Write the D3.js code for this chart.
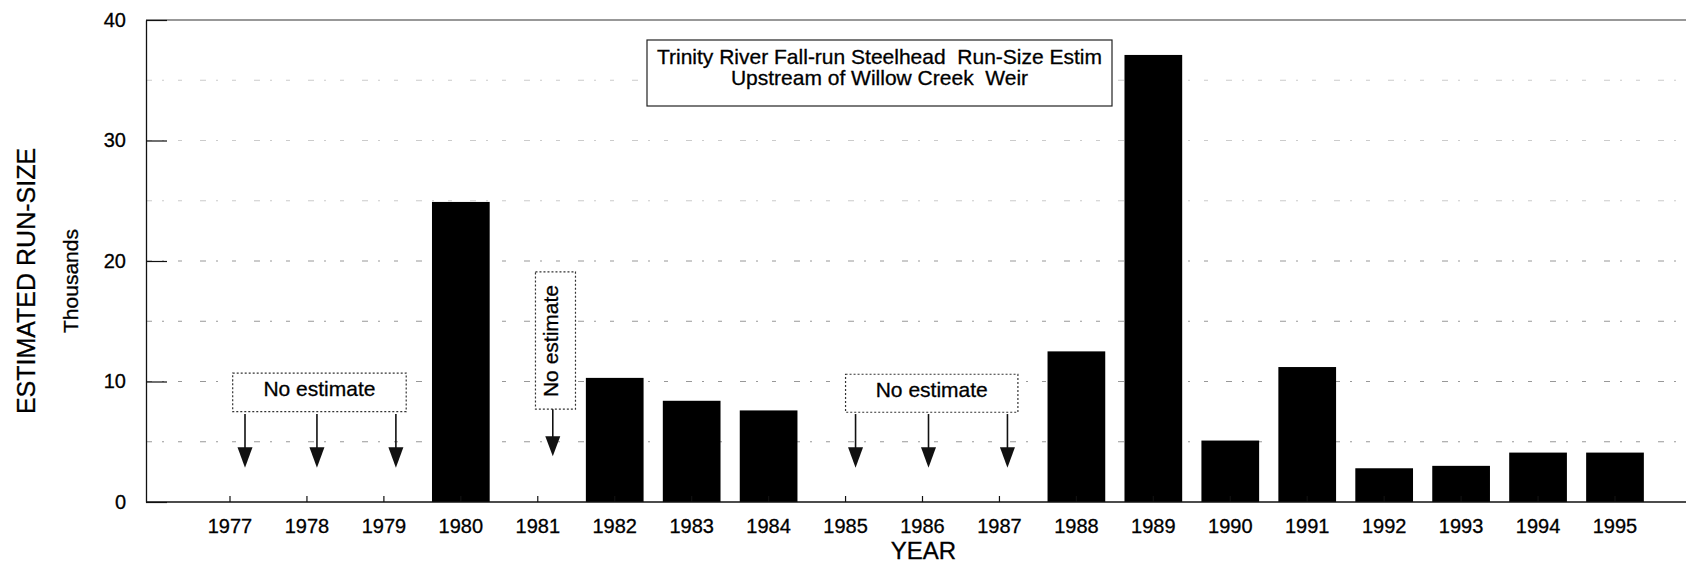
<!DOCTYPE html>
<html>
<head>
<meta charset="utf-8">
<script src="https://cdn.jsdelivr.net/npm/d3@7"></script>
<style>
  html, body { margin: 0; padding: 0; background: #fff; }
  svg { display: block; }
  text { font-family: "Liberation Sans", Arial, Helvetica, sans-serif; fill: #000; stroke: #000; stroke-width: 0.3px; white-space: pre; }
</style>
</head>
<body>
<svg id="chart" width="1686" height="565"></svg>
<script>
// ---- data ----
const years = [1977,1978,1979,1980,1981,1982,1983,1984,1985,1986,1987,1988,1989,1990,1991,1992,1993,1994,1995];
const barYears = [1980,1982,1983,1984,1988,1989,1990,1991,1992,1993,1994,1995];
const runSize = [24.9,10.3,8.4,7.6,12.5,37.1,5.1,11.2,2.8,3.0,4.1,4.1];   // thousands
const yTicks = [0,10,20,30,40];
const gridValues = [5,10,15,20,25,30,35];
const noEstimateYears = [1977,1978,1979,1981,1985,1986,1987];
const titleLines = ["Trinity River Fall-run Steelhead  Run-Size Estim", "Upstream of Willow Creek  Weir"];
const noEstimateLabel = "No estimate";
const yLabel = "ESTIMATED RUN-SIZE";
const yUnit = "Thousands";
const xLabel = "YEAR";

// ---- layout ----
const W = 1686, H = 565;
const plot = { left: 146, right: 1686, top: 20, bottom: 502 };
const firstC = 230, lastC = 1615;
const step = (lastC - firstC) / (years.length - 1);

const svg = d3.select("#chart");
svg.append("rect").attr("width", W).attr("height", H).attr("fill", "#fff");

const x = d3.scaleBand()
  .domain(years)
  .range([firstC - step / 2, lastC + step / 2])
  .paddingInner(0.25)
  .paddingOuter(0.125);
const xc = yr => x(yr) + x.bandwidth() / 2;
const xLin = d3.scaleLinear().domain([1977, 1995]).range([firstC, lastC]);

const y = d3.scaleLinear().domain([0, 40]).range([plot.bottom, plot.top]);

// gridlines (faint, broken)
svg.append("g").selectAll("line").data(gridValues).join("line")
  .attr("x1", plot.left).attr("x2", plot.right)
  .attr("y1", d => y(d)).attr("y2", d => y(d))
  .attr("stroke", "#555").attr("stroke-width", 1)
  .attr("stroke-dasharray", "6,10,2,14,4,18")
  .attr("opacity", d => (d <= 20) ? 0.6 : 0.3);

// top frame line
svg.append("line")
  .attr("x1", plot.left).attr("x2", plot.right)
  .attr("y1", y(40)).attr("y2", y(40))
  .attr("stroke", "#333").attr("stroke-width", 1.2);

// bars
svg.append("g").selectAll("rect").data(barYears.map((yr, i) => ({ yr, v: runSize[i] }))).join("rect")
  .attr("x", d => x(d.yr))
  .attr("width", x.bandwidth())
  .attr("y", d => y(d.v))
  .attr("height", d => y(0) - y(d.v))
  .attr("fill", "#000");

// y axis
const yAxis = d3.axisLeft(y).tickValues(yTicks).tickSizeInner(-21).tickSizeOuter(0).tickPadding(20);
const gy = svg.append("g").attr("transform", `translate(${plot.left},0)`).call(yAxis);
gy.select(".domain").attr("stroke", "#111").attr("stroke-width", 1.3);
gy.selectAll(".tick line").attr("stroke", "#111").attr("stroke-width", 1.2);
gy.selectAll(".tick text").attr("font-size", 20).attr("fill", "#000")
  .style("font-family", '"Liberation Sans", Arial, sans-serif');

// x axis
const xAxis = d3.axisBottom(x).tickSizeInner(-6).tickSizeOuter(0);
const gx = svg.append("g").attr("transform", `translate(0,${plot.bottom})`).call(xAxis);
gx.select(".domain").remove();
gx.selectAll(".tick line").attr("stroke", "#111").attr("stroke-width", 1.2);
gx.selectAll(".tick text").attr("y", 31).attr("dy", null)
  .attr("font-size", 20).attr("fill", "#000")
  .style("font-family", '"Liberation Sans", Arial, sans-serif');
svg.append("line")
  .attr("x1", plot.left).attr("x2", plot.right)
  .attr("y1", y(0)).attr("y2", y(0))
  .attr("stroke", "#111").attr("stroke-width", 1.5);

// axis titles
svg.append("text")
  .attr("transform", `translate(35,${(y(0) + y(40)) / 2 + 20}) rotate(-90)`)
  .attr("text-anchor", "middle").attr("font-size", 25)
  .text(yLabel);
svg.append("text")
  .attr("transform", `translate(78,${(y(0) + y(40)) / 2 + 20}) rotate(-90)`)
  .attr("text-anchor", "middle").attr("font-size", 21)
  .text(yUnit);
svg.append("text")
  .attr("x", xLin(1986) + 1).attr("y", 559)
  .attr("text-anchor", "middle").attr("font-size", 24)
  .text(xLabel);

// title box
const tb = { x0: 647, x1: 1112, y0: 40, y1: 106 };
svg.append("rect")
  .attr("x", tb.x0).attr("y", tb.y0)
  .attr("width", tb.x1 - tb.x0).attr("height", tb.y1 - tb.y0)
  .attr("fill", "#fff").attr("stroke", "#222").attr("stroke-width", 1.2);
svg.append("g").selectAll("text").data(titleLines).join("text")
  .attr("x", (tb.x0 + tb.x1) / 2)
  .attr("y", (d, i) => 63.5 + i * 21.5)
  .attr("text-anchor", "middle").attr("font-size", 21)
  .attr("xml:space", "preserve")
  .text(d => d);

// "No estimate" boxes (placed in data units)
const boxes = [
  { from: 1977.035, to: 1979.29, top: 10.7, bot: 7.5, vertical: false },
  { from: 1980.97, to: 1981.49, top: 19.1, bot: 7.7, vertical: true },
  { from: 1985.0, to: 1987.24, top: 10.6, bot: 7.45, vertical: false }
];
const gb = svg.append("g");
boxes.forEach(b => {
  const bx0 = xLin(b.from), bx1 = xLin(b.to), by0 = y(b.top), by1 = y(b.bot);
  gb.append("rect")
    .attr("x", bx0).attr("y", by0).attr("width", bx1 - bx0).attr("height", by1 - by0)
    .attr("fill", "#fff").attr("stroke", "#333").attr("stroke-width", 1.2)
    .attr("stroke-dasharray", "2,2");
  if (b.vertical) {
    gb.append("text")
      .attr("transform", `translate(${bx0 + 23},${(by0 + by1) / 2 + 0.5}) rotate(-90)`)
      .attr("text-anchor", "middle").attr("font-size", 21)
      .text(noEstimateLabel);
  } else {
    gb.append("text")
      .attr("x", (bx0 + bx1) / 2).attr("y", by0 + 23)
      .attr("text-anchor", "middle").attr("font-size", 21)
      .text(noEstimateLabel);
  }
});

// arrows
const arrowOffset = { 1977: 15, 1978: 10, 1979: 12, 1981: 15, 1985: 10, 1986: 6, 1987: 8 };
const ga = svg.append("g");
noEstimateYears.forEach(yr => {
  const ax = xc(yr) + arrowOffset[yr];
  const single = yr === 1981;
  const shaftTop = single ? y(7.7) : y(7.3);
  const headTop = single ? y(5.45) : y(4.55);
  const tip = single ? y(3.8) : y(2.85);
  ga.append("line")
    .attr("x1", ax).attr("x2", ax).attr("y1", shaftTop).attr("y2", headTop + 2)
    .attr("stroke", "#111").attr("stroke-width", 1.6);
  ga.append("path")
    .attr("d", `M${ax - 7.5},${headTop} L${ax + 7.5},${headTop} L${ax},${tip} Z`)
    .attr("fill", "#111");
});
</script>
</body>
</html>
